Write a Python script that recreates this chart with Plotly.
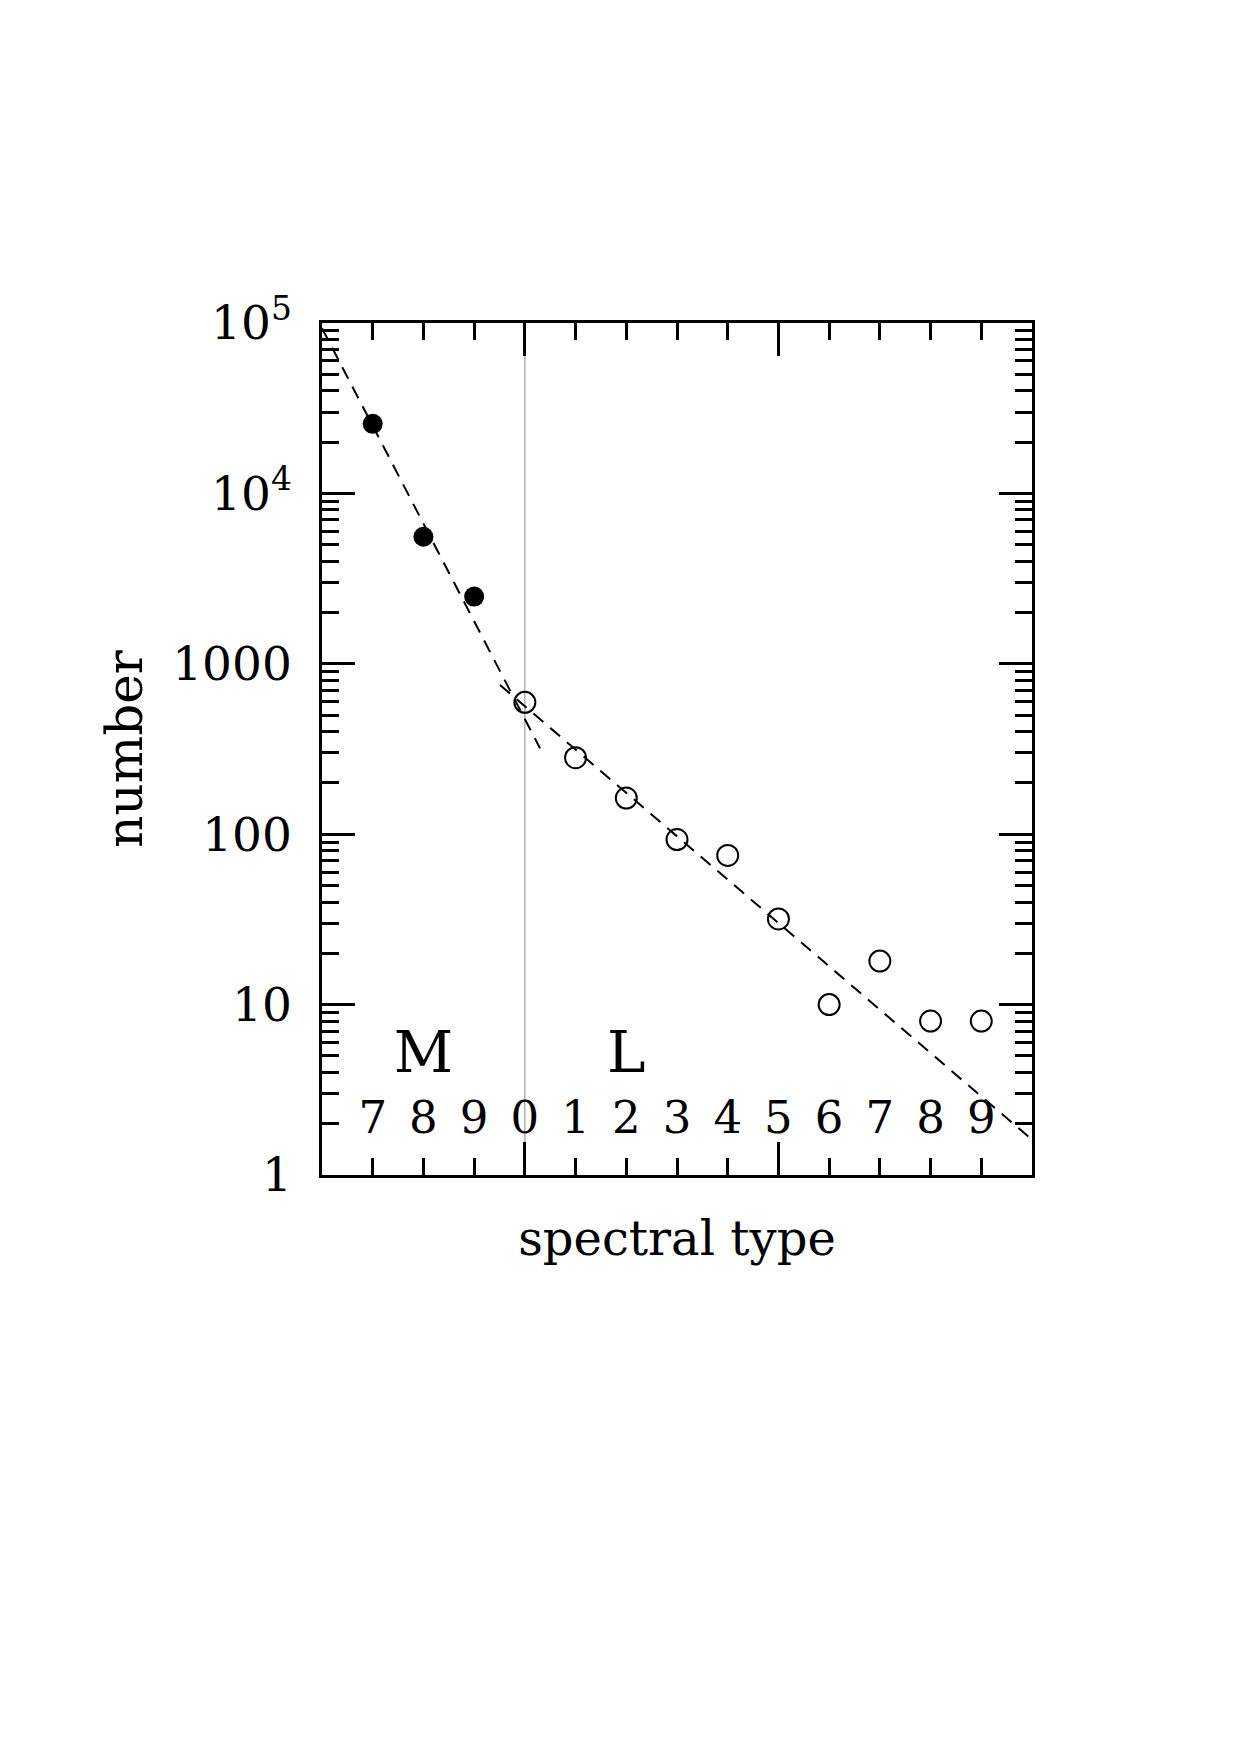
import numpy as np
import plotly.graph_objects as go

# ---- data ----
spectral_types = ["M7", "M8", "M9", "L0", "L1", "L2", "L3", "L4", "L5", "L6", "L7", "L8", "L9"]
type_pos = list(range(1, 14))           # position on the spectral-type axis
subclass_labels = ["7", "8", "9", "0", "1", "2", "3", "4", "5", "6", "7", "8", "9"]

m_types_pos = [1, 2, 3]
m_counts = [25600, 5570, 2480]

l_types_pos = [4, 5, 6, 7, 8, 9, 10, 11, 12, 13]
l_counts = [594, 281, 163, 93, 75, 31.8, 10.0, 18.0, 8.0, 8.0]

fit_m_x = [0.0, 4.30]
fit_m_y = [93300, 319]
fit_l_x = [3.51, 13.97]
fit_l_y = [751, 1.64]

class_labels = ["M", "L"]
class_pos = [2, 6]
class_label_y = 4.9
subclass_label_y = 2.05
boundary_pos = 4  # L0

y_tickvals = [1, 10, 100, 1000, 1e4, 1e5]
y_ticktext = ["1", "10", "100", "1000", "10<sup>4</sup>", "10<sup>5</sup>"]

FONT = "DejaVu Serif"

fig = go.Figure()

fig.add_trace(go.Scatter(x=fit_m_x, y=fit_m_y, mode="lines",
                         line=dict(color="black", width=2, dash="13px,9px"),
                         showlegend=False, hoverinfo="skip"))
fig.add_trace(go.Scatter(x=fit_l_x, y=fit_l_y, mode="lines",
                         line=dict(color="black", width=2, dash="13px,9px"),
                         showlegend=False, hoverinfo="skip"))

fig.add_trace(go.Scatter(x=m_types_pos, y=m_counts, mode="markers",
                         marker=dict(symbol="circle", size=20, color="black"),
                         showlegend=False))
fig.add_trace(go.Scatter(x=l_types_pos, y=l_counts, mode="markers",
                         marker=dict(symbol="circle-open", size=21, color="black",
                                     line=dict(width=2, color="black")),
                         showlegend=False))

fig.add_trace(go.Scatter(x=type_pos, y=[subclass_label_y] * len(type_pos), mode="text",
                         text=subclass_labels, textposition="middle center",
                         textfont=dict(family=FONT, size=45, color="black"),
                         showlegend=False, hoverinfo="skip"))
fig.add_trace(go.Scatter(x=class_pos, y=[class_label_y] * len(class_pos), mode="text",
                         text=class_labels, textposition="middle center",
                         textfont=dict(family=FONT, size=58, color="black"),
                         showlegend=False, hoverinfo="skip"))

fig.add_shape(type="line", x0=boundary_pos, x1=boundary_pos, y0=0, y1=1,
              xref="x", yref="paper", line=dict(color="#888888", width=1), layer="below")

minor_y = [m * 10 ** d for d in range(0, 5) for m in range(2, 10)]

fig.update_xaxes(range=[0, 14], showgrid=False, zeroline=False,
                 showline=True, linecolor="black", linewidth=2.5, mirror="ticks",
                 ticks="inside", tickvals=[4, 9], ticklen=33, tickwidth=2.5, tickcolor="black",
                 showticklabels=False,
                 minor=dict(tickvals=[1, 2, 3, 5, 6, 7, 8, 10, 11, 12, 13], ticks="inside",
                            ticklen=17, tickwidth=2.5, tickcolor="black", showgrid=False),
                 title=dict(text="spectral type", font=dict(family=FONT, size=48, color="black"),
                            standoff=45))
fig.update_yaxes(type="log", range=[0, 5], showgrid=False, zeroline=False,
                 showline=True, linecolor="black", linewidth=2.5, mirror="ticks",
                 ticks="inside", tickvals=y_tickvals, ticktext=y_ticktext,
                 ticklen=33, tickwidth=2.5, tickcolor="black",
                 ticklabelstandoff=18,
                 tickfont=dict(family=FONT, size=47, color="black"),
                 minor=dict(tickvals=minor_y, ticks="inside", ticklen=17, tickwidth=2.5,
                            tickcolor="black", showgrid=False),
                 title=dict(text="number", font=dict(family=FONT, size=50, color="black"),
                            standoff=14))

fig.update_layout(width=1241, height=1754,
                  margin=dict(l=322, r=209, t=323, b=579, autoexpand=False),
                  paper_bgcolor="white", plot_bgcolor="white",
                  font=dict(family=FONT, color="black"))

fig.write_html("out.html")
